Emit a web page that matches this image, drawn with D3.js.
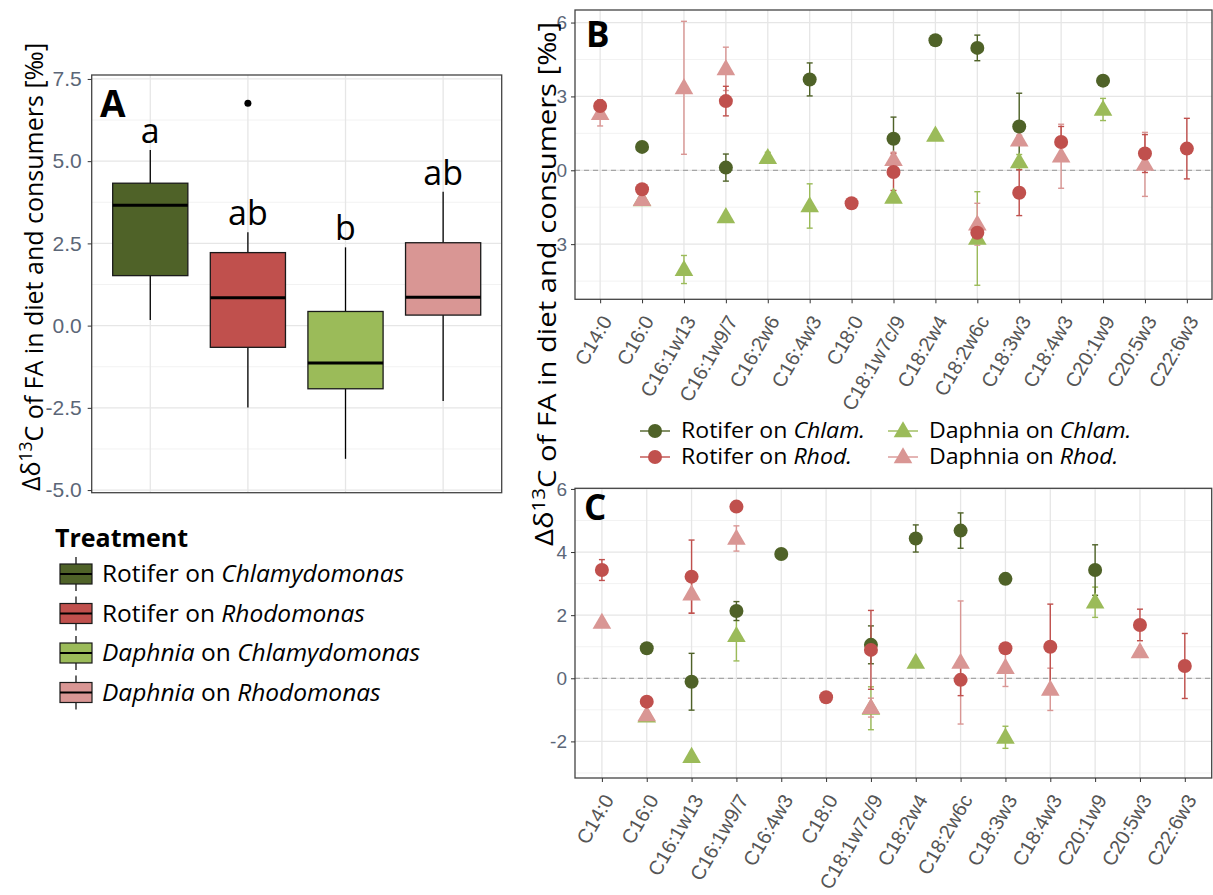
<!DOCTYPE html>
<html>
<head>
<meta charset="utf-8">
<script src="https://cdn.jsdelivr.net/npm/d3@7"></script>
<style>
  body { margin: 0; background: #fff; }
  text { font-family: "Open Sans", sans-serif; }
  .tick text { font-family: "Liberation Sans", Arial, sans-serif; }
</style>
</head>
<body>
<script>
// ---- data: panel A (boxplots) ----
var treatments = ["Rotifer on Chlamydomonas", "Rotifer on Rhodomonas", "Daphnia on Chlamydomonas", "Daphnia on Rhodomonas"];
var boxLower  = [0.17, -2.49, -4.05, -2.29];
var boxQ1     = [1.52, -0.66, -1.92, 0.32];
var boxMedian = [3.66, 0.85, -1.14, 0.86];
var boxQ3     = [4.33, 2.22, 0.43, 2.52];
var boxUpper  = [5.34, 2.84, 2.38, 4.07];
var boxOutliers = [[], [6.76], [], []];
var sigLetters = ["a", "ab", "b", "ab"];
var ticksA = [-5, -2.5, 0, 2.5, 5, 7.5];

// ---- data: panel B ----
var fattyAcidsB = ["C14:0", "C16:0", "C16:1w13", "C16:1w9/7", "C16:2w6", "C16:4w3", "C18:0", "C18:1w7c/9",
                   "C18:2w4", "C18:2w6c", "C18:3w3", "C18:4w3", "C20:1w9", "C20:5w3", "C22:6w3"];
var rotChlamB    = [null, 0.95, null, 0.11, null, 3.69, null, 1.28, 5.28, 4.97, 1.78, null, 3.64, null, null];
var rotChlamErrB = [null, 0.08, null, 0.55, null, 0.67, null, 0.88, 0.1, 0.52, 1.35, null, 0.1, null, null];
var rotRhodB     = [2.61, -0.77, null, 2.81, null, null, -1.34, -0.07, null, -2.54, -0.91, 1.15, null, 0.68, 0.88];
var rotRhodErrB  = [0.25, 0.12, null, 0.6, null, null, 0.12, 0.75, null, 0.1, 0.93, 0.63, null, 0.77, 1.23];
var daphChlamB    = [null, -1.2, -4.03, -1.89, 0.51, -1.45, null, -1.1, 1.42, -2.77, 0.34, null, 2.47, null, null];
var daphChlamErrB = [null, 0.05, 0.57, 0.1, 0.22, 0.9, null, 0.1, 0.1, 1.9, 0.3, null, 0.45, null, null];
var daphRhodB    = [2.3, -1.19, 3.35, 4.12, null, null, null, 0.43, null, -2.19, 1.22, 0.57, null, 0.24, null];
var daphRhodErrB = [0.5, 0.05, 2.7, 0.88, null, null, null, 0.3, null, 0.85, 0.2, 1.3, null, 1.3, null];
var ticksB = [-3, 0, 3, 6];

// ---- data: panel C ----
var fattyAcidsC = ["C14:0", "C16:0", "C16:1w13", "C16:1w9/7", "C16:4w3", "C18:0", "C18:1w7c/9",
                   "C18:2w4", "C18:2w6c", "C18:3w3", "C18:4w3", "C20:1w9", "C20:5w3", "C22:6w3"];
var rotChlamC    = [null, 0.95, -0.11, 2.13, 3.94, null, 1.06, 4.43, 4.68, 3.15, null, 3.43, null, null];
var rotChlamErrC = [null, 0.08, 0.9, 0.3, 0.15, null, 0.6, 0.43, 0.56, 0.1, null, 0.8, null, null];
var rotRhodC     = [3.43, -0.74, 3.22, 5.44, null, -0.6, 0.9, null, -0.05, 0.95, 1.0, null, 1.69, 0.39];
var rotRhodErrC  = [0.33, 0.1, 1.16, 0.1, null, 0.1, 1.25, null, 0.5, 0.15, 1.35, null, 0.5, 1.03];
var daphChlamC    = [null, -1.2, -2.48, 1.35, null, null, -0.95, 0.5, null, -1.87, null, 2.41, null, null];
var daphChlamErrC = [null, 0.05, 0.1, 0.8, null, null, 0.68, 0.1, null, 0.35, null, 0.48, null, null];
var daphRhodC    = [1.77, -1.16, 2.67, 4.43, null, null, -0.93, null, 0.5, 0.34, -0.35, null, 0.84, null];
var daphRhodErrC = [0.1, 0.1, 0.6, 0.4, null, null, 0.3, null, 1.95, 0.6, 0.67, null, 0.1, null];
var ticksC = [-2, 0, 2, 4, 6];

var colors = ["#4f6228", "#c0504d", "#9bbb59", "#d99694"];

var W = 1213, H = 895;
var svg = d3.select("body").append("svg").attr("width", W).attr("height", H);
svg.append("rect").attr("width", W).attr("height", H).attr("fill", "#fff");

var tickColor = "#5b6677";

function panelFrame(x, y, xs, ticks, minor) {
    var g = svg.append("g");
    var x0 = x.range()[0], x1 = x.range()[1];
    var y0 = y.range()[0], y1 = y.range()[1];
    g.selectAll(".minor").data(minor).enter().append("line")
        .attr("x1", x0).attr("x2", x1)
        .attr("y1", function(d) { return y(d); }).attr("y2", function(d) { return y(d); })
        .attr("stroke", "#f2f2f2").attr("stroke-width", 1);
    g.selectAll(".major").data(ticks).enter().append("line")
        .attr("x1", x0).attr("x2", x1)
        .attr("y1", function(d) { return y(d); }).attr("y2", function(d) { return y(d); })
        .attr("stroke", "#e6e6e6").attr("stroke-width", 1.3);
    g.selectAll(".vgrid").data(xs).enter().append("line")
        .attr("x1", function(d) { return x(d); }).attr("x2", function(d) { return x(d); })
        .attr("y1", y0).attr("y2", y1)
        .attr("stroke", "#e6e6e6").attr("stroke-width", 1.3);
    return g;
}

function panelBorder(x, y) {
    var x0 = x.range()[0], x1 = x.range()[1];
    var y0 = y.range()[0], y1 = y.range()[1];
    svg.append("rect").attr("x", x0).attr("y", y1)
        .attr("width", x1 - x0).attr("height", y0 - y1)
        .attr("fill", "none").attr("stroke", "#444").attr("stroke-width", 1.3);
}

function yAxis(y, ticks, fmt, size, pad) {
    var x0 = y.x0;
    var ax = svg.append("g")
        .attr("transform", "translate(" + x0 + ",0)")
        .call(d3.axisLeft(y).tickValues(ticks).tickFormat(fmt).tickSize(4).tickPadding(pad));
    ax.select(".domain").remove();
    ax.selectAll(".tick line").attr("stroke", "#333");
    ax.selectAll(".tick text").attr("fill", tickColor).style("font-size", size + "px");
}

// ================= Panel A =================
var xA = d3.scalePoint().domain(treatments).range([91.7, 501.7]).padding(0.6);
var yA = d3.scaleLinear().domain([-5.08, 7.62]).range([492.7, 75]);
yA.x0 = 91.7;
panelFrame(xA, yA, treatments, ticksA, [-3.75, -1.25, 1.25, 3.75, 6.25]);

var boxW = xA.step() * 0.77;
var gA = svg.append("g");
treatments.forEach(function(t, i) {
    var cx = xA(t);
    gA.append("line").attr("x1", cx).attr("x2", cx)
        .attr("y1", yA(boxUpper[i])).attr("y2", yA(boxQ3[i]))
        .attr("stroke", "#000").attr("stroke-width", 1.3);
    gA.append("line").attr("x1", cx).attr("x2", cx)
        .attr("y1", yA(boxQ1[i])).attr("y2", yA(boxLower[i]))
        .attr("stroke", "#000").attr("stroke-width", 1.3);
    gA.append("rect").attr("x", cx - boxW / 2).attr("y", yA(boxQ3[i]))
        .attr("width", boxW).attr("height", yA(boxQ1[i]) - yA(boxQ3[i]))
        .attr("fill", colors[i]).attr("stroke", "#1a1a1a").attr("stroke-width", 1.3);
    gA.append("line").attr("x1", cx - boxW / 2).attr("x2", cx + boxW / 2)
        .attr("y1", yA(boxMedian[i])).attr("y2", yA(boxMedian[i]))
        .attr("stroke", "#000").attr("stroke-width", 3);
    boxOutliers[i].forEach(function(o) {
        gA.append("circle").attr("cx", cx).attr("cy", yA(o)).attr("r", 3.5).attr("fill", "#000");
    });
    gA.append("text").attr("x", cx).attr("y", yA(boxUpper[i]) - 7)
        .attr("text-anchor", "middle").style("font-size", "34px").text(sigLetters[i]);
});
panelBorder(xA, yA);
yAxis(yA, ticksA, function(d) { return d.toFixed(1); }, 21, 6);
svg.append("text").attr("x", 100).attr("y", 117).style("font-size", "37px")
    .style("font-weight", "bold").text("A");

// ================= Points helper =================
function drawPoints(x, y, cats, series) {
    var g = svg.append("g");
    // error bars first
    series.forEach(function(s) {
        cats.forEach(function(c, i) {
            var v = s.vals[i], e = s.err[i];
            if (v === null || e === null) return;
            var cx = x(c);
            g.append("line").attr("x1", cx).attr("x2", cx)
                .attr("y1", y(v + e)).attr("y2", y(v - e))
                .attr("stroke", s.color).attr("stroke-width", 1.4);
            [v + e, v - e].forEach(function(b) {
                g.append("line").attr("x1", cx - 3).attr("x2", cx + 3)
                    .attr("y1", y(b)).attr("y2", y(b))
                    .attr("stroke", s.color).attr("stroke-width", 1.4);
            });
        });
    });
    series.forEach(function(s) {
        cats.forEach(function(c, i) {
            var v = s.vals[i];
            if (v === null) return;
            drawMarker(g, x(c), y(v), s.shape, s.color);
        });
    });
}

function drawMarker(g, cx, cy, shape, color) {
    if (shape === "circle") {
        g.append("circle").attr("cx", cx).attr("cy", cy).attr("r", 7).attr("fill", color);
    } else {
        g.append("path").attr("d", d3.symbol().type(d3.symbolTriangle).size(150)())
            .attr("transform", "translate(" + cx + "," + (cy + 1) + ")").attr("fill", color);
    }
}

function xAxisRot(x, yPos) {
    var ax = svg.append("g")
        .attr("transform", "translate(0," + yPos + ")")
        .call(d3.axisBottom(x).tickSize(4).tickPadding(2));
    ax.select(".domain").remove();
    ax.selectAll(".tick line").attr("stroke", "#333");
    ax.selectAll(".tick text")
        .attr("fill", "#555").style("font-size", "20px")
        .attr("text-anchor", "end")
        .attr("x", 0).attr("y", 0).attr("dy", "0.35em")
        .attr("transform", "translate(6,18) rotate(-60)");
}

function zeroLine(x, y) {
    svg.append("line").attr("x1", x.range()[0]).attr("x2", x.range()[1])
        .attr("y1", y(0)).attr("y2", y(0))
        .attr("stroke", "#a6a6a6").attr("stroke-width", 1.3).attr("stroke-dasharray", "5,4");
}

// ================= Panel B =================
var xB = d3.scalePoint().domain(fattyAcidsB).range([575, 1212]).padding(0.6);
var yB = d3.scaleLinear().domain([-5.24, 6.51]).range([299.3, 10]);
yB.x0 = 575;
panelFrame(xB, yB, fattyAcidsB, ticksB, [-4.5, -1.5, 1.5, 4.5]);
zeroLine(xB, yB);
drawPoints(xB, yB, fattyAcidsB, [
    {vals: daphChlamB, err: daphChlamErrB, color: colors[2], shape: "tri"},
    {vals: daphRhodB, err: daphRhodErrB, color: colors[3], shape: "tri"},
    {vals: rotChlamB, err: rotChlamErrB, color: colors[0], shape: "circle"},
    {vals: rotRhodB, err: rotRhodErrB, color: colors[1], shape: "circle"}
]);
panelBorder(xB, yB);
yAxis(yB, ticksB, function(d) { return d; }, 19, 4);
xAxisRot(xB, 299.3);
svg.append("text").attr("x", 586).attr("y", 47).style("font-size", "35px")
    .style("font-weight", "bold").text("B");

// ================= Panel C =================
var xC = d3.scalePoint().domain(fattyAcidsC).range([575, 1211.7]).padding(0.6);
var yC = d3.scaleLinear().domain([-3.16, 6.02]).range([778, 488.3]);
yC.x0 = 575;
panelFrame(xC, yC, fattyAcidsC, ticksC, [-3, -1, 1, 3, 5]);
zeroLine(xC, yC);
drawPoints(xC, yC, fattyAcidsC, [
    {vals: daphChlamC, err: daphChlamErrC, color: colors[2], shape: "tri"},
    {vals: daphRhodC, err: daphRhodErrC, color: colors[3], shape: "tri"},
    {vals: rotChlamC, err: rotChlamErrC, color: colors[0], shape: "circle"},
    {vals: rotRhodC, err: rotRhodErrC, color: colors[1], shape: "circle"}
]);
panelBorder(xC, yC);
yAxis(yC, ticksC, function(d) { return d; }, 19, 4);
xAxisRot(xC, 778);
svg.append("text").attr("x", 584).attr("y", 520).style("font-size", "35px")
    .style("font-weight", "bold").text("C");

// ================= axis titles =================
function yTitle(cx, cy, size, stretch) {
    var t = svg.append("text")
        .attr("transform", "translate(" + cx + "," + cy + ") rotate(-90) scale(" + stretch + ",1)")
        .attr("text-anchor", "middle").style("font-size", size + "px");
    t.append("tspan").text("\u0394\u03b4");
    t.append("tspan").attr("dy", "-0.45em").style("font-size", (size * 0.7) + "px").text("13");
    t.append("tspan").attr("dy", "0.45em").text("C of FA in diet and consumers [\u2030]");
}
yTitle(40, 267, 25, 1.0);
yTitle(553, 284, 25, 1.17);

// ================= legend A =================
svg.append("text").attr("x", 55).attr("y", 547).style("font-size", "25px")
    .style("font-weight", "bold").text("Treatment");
var legA = [
    [["Rotifer on ", false], ["Chlamydomonas", true]],
    [["Rotifer on ", false], ["Rhodomonas", true]],
    [["Daphnia", true], [" on ", false], ["Chlamydomonas", true]],
    [["Daphnia", true], [" on ", false], ["Rhodomonas", true]]
];
legA.forEach(function(parts, i) {
    var cy = 574 + i * 39.5;
    svg.append("line").attr("x1", 76).attr("x2", 76).attr("y1", cy - 17).attr("y2", cy + 17)
        .attr("stroke", "#000").attr("stroke-width", 1.2);
    svg.append("rect").attr("x", 60).attr("y", cy - 10).attr("width", 32).attr("height", 20)
        .attr("fill", colors[i]).attr("stroke", "#1a1a1a").attr("stroke-width", 1.2);
    svg.append("line").attr("x1", 60).attr("x2", 92).attr("y1", cy).attr("y2", cy)
        .attr("stroke", "#000").attr("stroke-width", 2);
    var t = svg.append("text").attr("x", 102).attr("y", cy + 8).style("font-size", "24.5px");
    parts.forEach(function(p) {
        t.append("tspan").style("font-style", p[1] ? "italic" : "normal").text(p[0]);
    });
});

// ================= legend B =================
var legB = [
    {parts: [["Rotifer on ", false], ["Chlam.", true]], color: colors[0], shape: "circle", x: 655, y: 431},
    {parts: [["Rotifer on ", false], ["Rhod.", true]], color: colors[1], shape: "circle", x: 655, y: 457},
    {parts: [["Daphnia on ", false], ["Chlam.", true]], color: colors[2], shape: "tri", x: 903, y: 431},
    {parts: [["Daphnia on ", false], ["Rhod.", true]], color: colors[3], shape: "tri", x: 903, y: 457}
];
legB.forEach(function(d) {
    svg.append("line").attr("x1", d.x - 15).attr("x2", d.x + 15).attr("y1", d.y).attr("y2", d.y)
        .attr("stroke", d.color).attr("stroke-width", 1.4);
    drawMarker(svg, d.x, d.y, d.shape, d.color);
    var t = svg.append("text")
        .attr("transform", "translate(" + (d.x + 26) + "," + (d.y + 7) + ") scale(1.1,1)")
        .style("font-size", "21px");
    d.parts.forEach(function(p) {
        t.append("tspan").style("font-style", p[1] ? "italic" : "normal").text(p[0]);
    });
});
</script>
</body>
</html>
